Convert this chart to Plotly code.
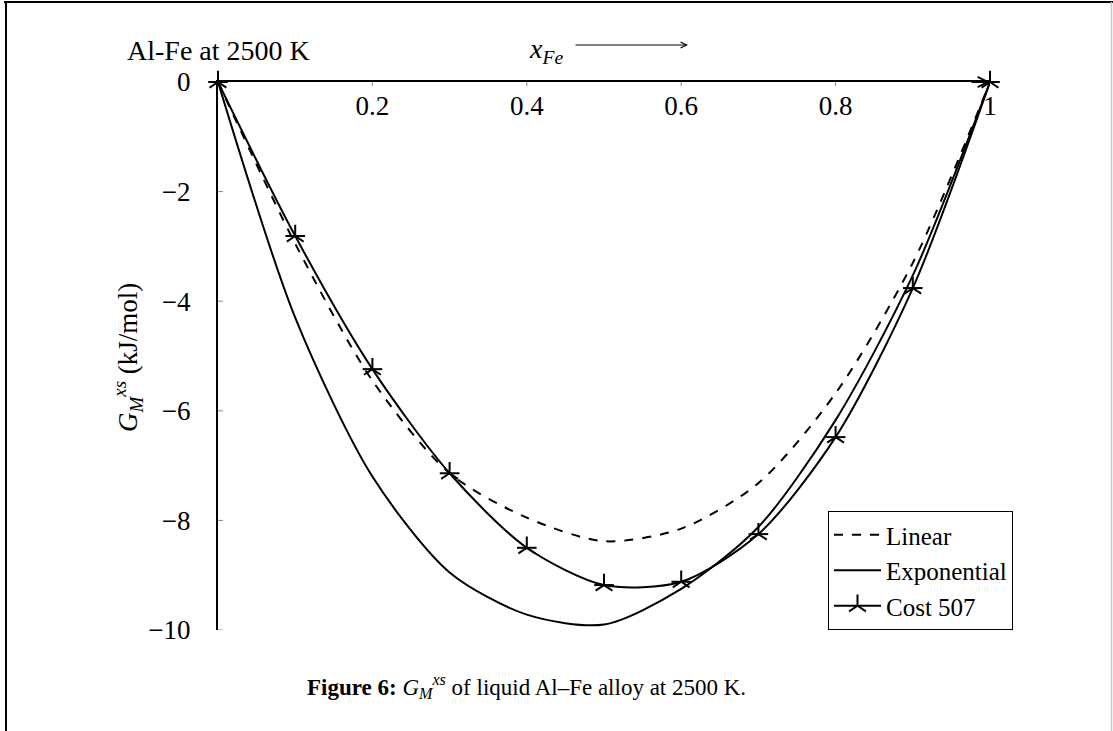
import plotly.graph_objects as go

# Mole fraction of Fe
x_fe = [0.0, 0.1, 0.2, 0.3, 0.4, 0.5, 0.6, 0.7, 0.8, 0.9, 1.0]

# Excess Gibbs energy of mixing (kJ/mol)
g_linear = [0.0, -2.95, -5.45, -7.14, -7.95, -8.38, -8.15, -7.32, -5.68, -3.30, 0.0]
g_exponential = [0.0, -4.30, -7.20, -8.95, -9.72, -9.90, -9.25, -8.12, -6.17, -3.53, 0.0]
g_cost507 = [0.0, -2.81, -5.24, -7.14, -8.50, -9.18, -9.12, -8.25, -6.48, -3.76, 0.0]

x_tickvals = [0.2, 0.4, 0.6, 0.8, 1.0]
x_ticktext = ["0.2", "0.4", "0.6", "0.8", "1"]
y_tickvals = [0, -2, -4, -6, -8, -10]
y_ticktext = ["0", "\u22122", "\u22124", "\u22126", "\u22128", "\u221210"]

W, H = 1113, 731
L, R, T, B = 218, 123, 82, 101
PW, PH = W - L - R, H - T - B

SERIF = "Liberation Serif, Times New Roman, serif"
FS = 27


def px_x(p):
    return (p - L) / PW


def px_y(p):
    return (H - B - p) / PH


fig = go.Figure()

fig.add_trace(go.Scatter(
    x=x_fe, y=g_linear, name="Linear", mode="lines",
    line=dict(color="black", width=2, dash="dash", shape="spline", smoothing=0.8),
    cliponaxis=False,
))
fig.add_trace(go.Scatter(
    x=x_fe, y=g_exponential, name="Exponential", mode="lines",
    line=dict(color="black", width=2, shape="spline", smoothing=0.8),
    cliponaxis=False,
))
fig.add_trace(go.Scatter(
    x=x_fe, y=g_cost507, name="Cost 507", mode="lines+markers",
    line=dict(color="black", width=2, shape="spline", smoothing=0.8),
    marker=dict(symbol="y-up-open", size=14, color="black",
                line=dict(color="black", width=2)),
    cliponaxis=False,
))
# horizontal arms completing the asterisk marks
fig.add_trace(go.Scatter(
    x=x_fe, y=g_cost507, mode="markers", showlegend=False, hoverinfo="skip",
    marker=dict(symbol="line-ew-open", size=14, color="black",
                line=dict(color="black", width=2)),
    cliponaxis=False,
))

shapes = []
# small tick marks crossing the axes
dy = 4 / PH * 10
for v in x_tickvals[:-1]:
    shapes.append(dict(type="line", xref="x", yref="y", x0=v, x1=v, y0=-dy, y1=dy,
                       line=dict(color="#888888", width=1)))
dx = 5 / PW
for v in y_tickvals[1:]:
    shapes.append(dict(type="line", xref="x", yref="y", x0=-dx, x1=dx, y0=v, y1=v,
                       line=dict(color="#888888", width=1)))

# page frame lines
shapes.append(dict(type="line", xref="paper", yref="paper",
                   x0=px_x(4), x1=px_x(1113), y0=px_y(2), y1=px_y(2),
                   line=dict(color="black", width=2)))
shapes.append(dict(type="line", xref="paper", yref="paper",
                   x0=px_x(6), x1=px_x(6), y0=px_y(2), y1=px_y(731),
                   line=dict(color="black", width=2)))
shapes.append(dict(type="line", xref="paper", yref="paper",
                   x0=px_x(1111.5), x1=px_x(1111.5), y0=px_y(2), y1=px_y(731),
                   line=dict(color="#c8c8c8", width=1.5)))


def label(text, xp, yp, size=FS, **kw):
    return dict(x=px_x(xp), y=px_y(yp), xref="paper", yref="paper", showarrow=False,
                xanchor="center", yanchor="middle", text=text,
                font=dict(family=SERIF, size=size, color="black"), **kw)


annotations = [
    # arrowhead on the x axis
    dict(x=1.0, y=0, xref="x", yref="y", ax=-20, ay=0,
         showarrow=True, arrowhead=5, arrowsize=1, arrowwidth=2, arrowcolor="black",
         text=""),
    # x axis label with its arrow
    label("<i>x</i><sub><i>Fe</i></sub>", 546, 50, size=28),
    dict(x=px_x(688), y=px_y(45), xref="paper", yref="paper",
         ax=-(688 - 574), ay=0,
         showarrow=True, arrowhead=5, arrowsize=1, arrowwidth=1.2, arrowcolor="black",
         text=""),
    # plot title in the corner
    label("Al-Fe at 2500 K", 218, 50, size=28),
    # y axis label
    label("<i>G</i><sub><i>M</i></sub><sup><i>xs</i></sup> (kJ/mol)", 128, 358, textangle=-90),
    # caption
    label("<b>Figure 6:</b> <i>G</i><sub><i>M</i></sub><sup><i>xs</i></sup> of liquid Al\u2013Fe alloy at 2500 K.",
          526, 686, size=23),
]

fig.update_layout(
    width=W, height=H,
    margin=dict(l=L, r=R, t=T, b=B),
    paper_bgcolor="white", plot_bgcolor="white",
    font=dict(family=SERIF, size=FS, color="black"),
    xaxis=dict(range=[0, 1], side="top", showline=True, linecolor="black", linewidth=2,
               showgrid=False, zeroline=False, ticks="",
               tickvals=x_tickvals, ticktext=x_ticktext,
               ticklabelposition="inside", ticklabelstandoff=17,
               ticklabeloverflow="allow",
               tickfont=dict(family=SERIF, size=FS, color="black")),
    yaxis=dict(range=[-10, 0], showline=True, linecolor="black", linewidth=2,
               showgrid=False, zeroline=False, ticks="",
               tickvals=y_tickvals, ticktext=y_ticktext, ticklabelstandoff=20,
               ticklabeloverflow="allow",
               tickfont=dict(family=SERIF, size=FS, color="black")),
    legend=dict(x=px_x(1013), y=0, xanchor="right", yanchor="bottom",
                bordercolor="black", borderwidth=1, bgcolor="white",
                font=dict(family=SERIF, size=25, color="black"),
                itemwidth=47, tracegroupgap=0),
    shapes=shapes,
    annotations=annotations,
    showlegend=True,
)

fig.write_html("out.html")
